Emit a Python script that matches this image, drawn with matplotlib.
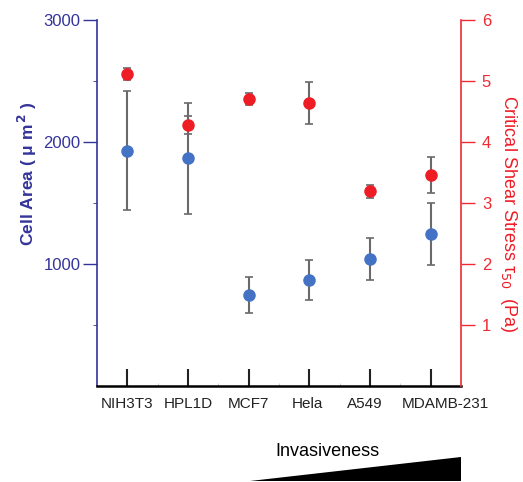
import matplotlib
matplotlib.use("Agg")
import matplotlib.pyplot as plt
from matplotlib.patches import Polygon
import matplotlib.transforms as mtransforms
import numpy as np

plt.rcParams['font.family'] = ['Liberation Sans', 'DejaVu Sans']

cells = ["NIH3T3", "HPL1D", "MCF7", "Hela", "A549", "MDAMB-231"]
area_mean = [1930, 1866, 746, 871, 1041, 1243]
area_err = [485, 455, 150, 162, 170, 255]
stress_mean = [5.11, 4.28, 4.70, 4.64, 3.19, 3.46]
stress_err = [0.10, 0.15, 0.10, 0.35, 0.10, 0.30]

blue_axis = "#33339a"
red_axis = "#ee2a33"
blue_pt = "#4472c4"
red_pt = "#ee1c25"
err_c = "#6a6a6a"

fig = plt.figure(figsize=(5.23, 4.82), dpi=100)
ax = fig.add_axes([97/523, 1 - 386/482, (461-97)/523, (386-20)/482])
ax2 = ax.twinx()

x = np.arange(len(cells))
ax.errorbar(x, area_mean, yerr=area_err, fmt='o', color=blue_pt, ms=8,
            ecolor=err_c, elinewidth=1.5, capsize=3, capthick=1.2, zorder=3)
ax2.errorbar(x, stress_mean, yerr=stress_err, fmt='o', color=red_pt, ms=8,
             ecolor=err_c, elinewidth=1.5, capsize=3, capthick=1.2, zorder=3)

ax.set_xlim(-0.5, 5.5)
ax.set_ylim(0, 3000)
ax2.set_ylim(0, 6)

ax.set_yticks([1000, 2000, 3000])
ax.set_yticks([500, 1500, 2500], minor=True)
ax.tick_params(axis='y', colors=blue_axis, labelsize=12, length=10, width=1, direction='out', pad=2)
ax.tick_params(axis='y', which='minor', colors=blue_axis, length=3, width=0.6)
ax2.set_yticks([1, 2, 3, 4, 5, 6])
ax2.tick_params(axis='y', colors=red_axis, labelsize=12, length=10, width=1, direction='out', pad=5)

ax.set_xticks(x)
ax.set_xticklabels(cells)
ax.set_xticks(x[:-1] + 0.5, minor=True)
ax.tick_params(axis='x', direction='in', length=12, width=1.5, colors='#222222', labelsize=11, pad=8)
ax.tick_params(axis='x', which='minor', direction='in', length=2, width=0.5, colors='#bbbbbb')
offsets = [0, 0, 0, -2, -5, 15]
for lbl, dx in zip(ax.get_xticklabels(), offsets):
    lbl.set_color('#222222')
    lbl.set_transform(lbl.get_transform() + mtransforms.ScaledTranslation(dx/100, 0, fig.dpi_scale_trans))

for a in (ax, ax2):
    a.spines['top'].set_visible(False)
ax.spines['right'].set_visible(False)
ax2.spines['left'].set_visible(False)
ax2.spines['bottom'].set_visible(False)
ax.spines['left'].set_color(blue_axis)
ax.spines['left'].set_linewidth(1.2)
ax2.spines['right'].set_color(red_axis)
ax2.spines['right'].set_linewidth(1.2)
ax.spines['bottom'].set_color('black')
ax.spines['bottom'].set_linewidth(1.8)

fig.text(27/523, 1 - 174/482, r"Cell Area ( μ m$^{\,\mathbf{2}}$ )", rotation=90, color=blue_axis,
         fontsize=12.5, fontweight='bold', ha='center', va='center')
fig.text(509/523, 1 - 214/482, r"Critical Shear Stress τ$_{50}$  (Pa)", rotation=270, color=red_pt,
         fontsize=13, ha='center', va='center')

fig.text(327/523, 1 - 452/482, "Invasiveness", fontsize=13, ha='center', va='center', color='black')
tri = Polygon([[250/523, 1 - 481/482], [461/523, 1 - 481/482], [461/523, 1 - 457/482]],
              closed=True, transform=fig.transFigure, facecolor='black', edgecolor='none')
fig.patches.append(tri)

fig.savefig("out.png", dpi=100)
